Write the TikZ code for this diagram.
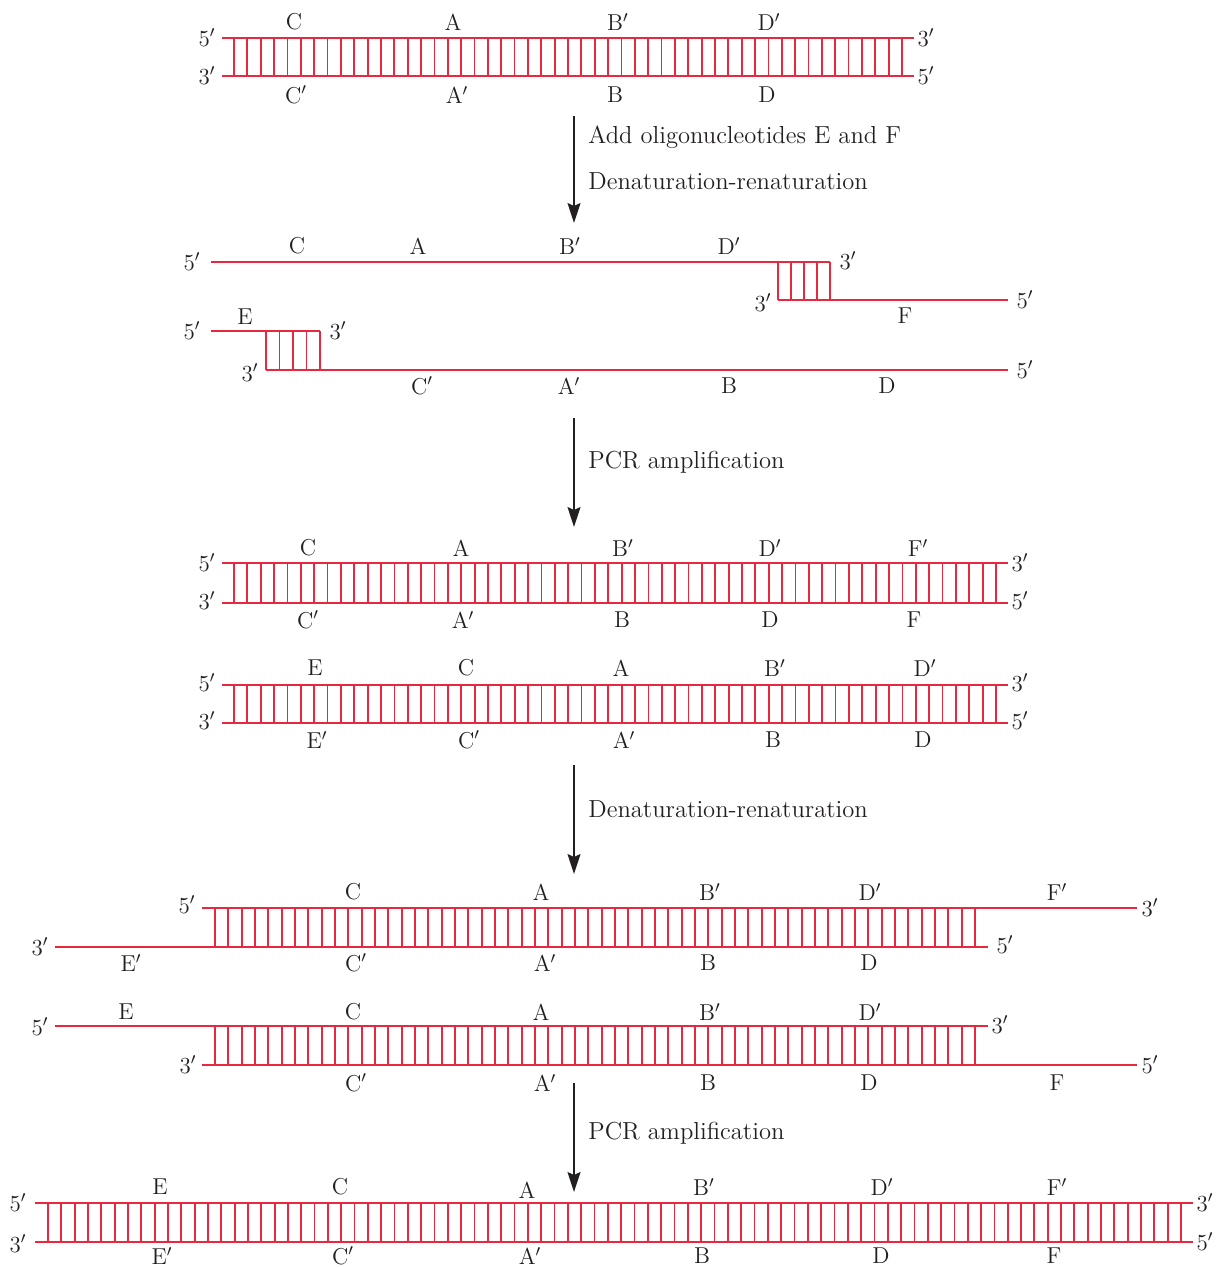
\documentclass[tikz,border=0pt]{standalone}
\usepackage{fontspec}
\usetikzlibrary{arrows.meta}
\definecolor{dna}{RGB}{232,40,62}
\definecolor{ink}{RGB}{35,31,32}
\newcommand\pr{$'$}
\newcommand\rungset[5]{%
  \foreach \i in {0,...,#5}{\pgfmathsetmacro\rx{#1+((#2-#1)/#5)*\i}\draw[rung] (\rx,#3) -- (\rx,#4);}}
\tikzset{
  strand/.style={draw=dna,line width=0.7pt},
  rung/.style={draw=dna,line width=0.9pt},
  lbl/.style={text=ink,inner sep=0pt,font=\fontsize{11.5}{13}\selectfont},
  steptext/.style={text=ink,inner sep=0pt,anchor=west,font=\fontsize{12.3}{14}\selectfont},
  flow/.style={draw=ink,line width=0.7pt,-{Stealth[length=10pt,width=6.5pt,inset=1.5pt]}}
}
\begin{document}
\begin{tikzpicture}[x=0.5pt,y=-0.5pt]
\useasboundingbox (0,0) rectangle (1219,1267);
% ---------- Diagram 1
\draw[strand] (222,38) -- (914,38);
\draw[strand] (222,76) -- (914,76);
\rungset{234}{902}{38}{76}{50}
\node[lbl] (d1l5) at (207,38) {5\pr};
\node[lbl] (d1l3) at (207,76) {3\pr};
\node[lbl] (d1r3) at (926,38) {3\pr};
\node[lbl] (d1r5) at (926,76) {5\pr};
\foreach \x/\t [count=\k] in {294/C,453/A,618/B\pr,769/D\pr}
  \node[lbl] (d1t\k) at (\x,22) {\t};
\foreach \x/\t [count=\k] in {296/C\pr,457/A\pr,615/B,767/D}
  \node[lbl] (d1b\k) at (\x,95) {\t};
% ---------- Arrow 1
\coordinate (a1s) at (574,116);
\coordinate (a1e) at (574,223);
\draw[flow] (a1s) -- (a1e);
\node[steptext] (s1) at (588,137) {Add oligonucleotides E and F};
\node[steptext] (s2) at (588,181) {Denaturation-renaturation};
% ---------- Diagram 2
\draw[strand] (211,262) -- (830,262);
\node[lbl] (d2a5) at (192,262) {5\pr};
\foreach \x/\t [count=\k] in {297/C,418/A,570/B\pr,729/D\pr}
  \node[lbl] (d2t\k) at (\x,246) {\t};
\rungset{778}{830}{262}{300}{4}
\draw[strand] (778,300) -- (1008,300);
\node[lbl] (d2a3) at (848,261) {3\pr};
\node[lbl] (d2f3) at (763,303) {3\pr};
\node[lbl] (d2f5) at (1025,300) {5\pr};
\node[lbl] (d2F) at (905,316) {F};
\draw[strand] (211,331) -- (320,331);
\node[lbl] (d2e5) at (192,331) {5\pr};
\node[lbl] (d2E) at (245,317) {E};
\rungset{266}{320}{331}{370}{4}
\node[lbl] (d2e3) at (338,331) {3\pr};
\node[lbl] (d2b3) at (250,373) {3\pr};
\draw[strand] (266,370) -- (1008,370);
\node[lbl] (d2b5) at (1025,370) {5\pr};
\foreach \x/\t [count=\k] in {422/C\pr,569/A\pr,729/B,887/D}
  \node[lbl] (d2b\k) at (\x,386) {\t};
% ---------- Arrow 2
\coordinate (a2s) at (574,418);
\coordinate (a2e) at (574,527);
\draw[flow] (a2s) -- (a2e);
\node[steptext] (s3) at (588,462) {PCR amplification};
% ---------- Diagram 3
\draw[strand] (222,563) -- (1008,563);
\draw[strand] (222,603) -- (1008,603);
\rungset{234}{996}{563}{603}{57}
\node[lbl] (d3l5) at (207,563) {5\pr};
\node[lbl] (d3l3) at (207,601) {3\pr};
\node[lbl] (d3r3) at (1020,563) {3\pr};
\node[lbl] (d3r5) at (1020,601) {5\pr};
\foreach \x/\t [count=\k] in {308/C,461/A,623/B\pr,770/D\pr,918/F\pr}
  \node[lbl] (d3t\k) at (\x,548) {\t};
\foreach \x/\t [count=\k] in {308/C\pr,463/A\pr,622/B,770/D,914/F}
  \node[lbl] (d3b\k) at (\x,620) {\t};
% ---------- Diagram 4
\draw[strand] (222,685) -- (1008,685);
\draw[strand] (222,723) -- (1008,723);
\rungset{234}{996}{685}{723}{57}
\node[lbl] (d4l5) at (207,683) {5\pr};
\node[lbl] (d4l3) at (207,721) {3\pr};
\node[lbl] (d4r3) at (1020,683) {3\pr};
\node[lbl] (d4r5) at (1020,721) {5\pr};
\foreach \x/\t [count=\k] in {315/E,466/C,621/A,775/B\pr,925/D\pr}
  \node[lbl] (d4t\k) at (\x,668) {\t};
\foreach \x/\t [count=\k] in {317/E\pr,469/C\pr,624/A\pr,773/B,923/D}
  \node[lbl] (d4b\k) at (\x,740) {\t};
% ---------- Arrow 3
\coordinate (a3s) at (574,765);
\coordinate (a3e) at (574,874);
\draw[flow] (a3s) -- (a3e);
\node[steptext] (s4) at (588,809) {Denaturation-renaturation};
% ---------- Diagram 5
\draw[strand] (202,908) -- (1137,908);
\draw[strand] (55,947) -- (988,947);
\rungset{215}{975}{908}{947}{57}
\node[lbl] (d5a5) at (187,905) {5\pr};
\node[lbl] (d5b3) at (40,947) {3\pr};
\node[lbl] (d5b5) at (1005,945) {5\pr};
\node[lbl] (d5a3) at (1150,908) {3\pr};
\foreach \x/\t [count=\k] in {353/C,541/A,710/B\pr,870/D\pr,1057/F\pr}
  \node[lbl] (d5t\k) at (\x,892) {\t};
\foreach \x/\t [count=\k] in {131/E\pr,356/C\pr,545/A\pr,708/B,869/D}
  \node[lbl] (d5b\k) at (\x,963) {\t};
% ---------- Diagram 6
\draw[strand] (55,1026) -- (988,1026);
\draw[strand] (202,1065) -- (1137,1065);
\rungset{215}{975}{1026}{1065}{57}
\node[lbl] (d6a5) at (40,1027) {5\pr};
\node[lbl] (d6a3) at (1000,1025) {3\pr};
\node[lbl] (d6b3) at (188,1065) {3\pr};
\node[lbl] (d6b5) at (1150,1065) {5\pr};
\foreach \x/\t [count=\k] in {126/E,353/C,541/A,710/B\pr,870/D\pr}
  \node[lbl] (d6t\k) at (\x,1012) {\t};
\foreach \x/\t [count=\k] in {356/C\pr,545/A\pr,708/B,869/D,1057/F}
  \node[lbl] (d6b\k) at (\x,1083) {\t};
% ---------- Arrow 4
\coordinate (a4s) at (574,1083);
\coordinate (a4e) at (574,1192);
\draw[flow] (a4s) -- (a4e);
\node[steptext] (s5) at (588,1133) {PCR amplification};
% ---------- Diagram 7
\draw[strand] (35,1203) -- (1193,1203);
\draw[strand] (35,1242) -- (1193,1242);
\rungset{48}{1181}{1203}{1242}{85}
\node[lbl] (d7l5) at (18,1203) {5\pr};
\node[lbl] (d7l3) at (18,1244) {3\pr};
\node[lbl] (d7r3) at (1205,1203) {3\pr};
\node[lbl] (d7r5) at (1205,1242) {5\pr};
\foreach \x/\y/\t [count=\k] in {160/1187/E,340/1187/C,527/1190/A,704/1187/B\pr,882/1187/D\pr,1057/1187/F\pr}
  \node[lbl] (d7t\k) at (\x,\y) {\t};
\foreach \x/\t [count=\k] in {162/E\pr,343/C\pr,530/A\pr,702/B,881/D,1054/F}
  \node[lbl] (d7b\k) at (\x,1256) {\t};
\end{tikzpicture}
\end{document}
